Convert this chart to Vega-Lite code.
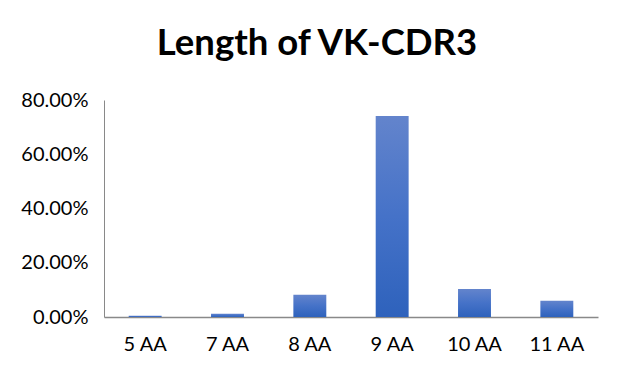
{
  "$schema": "https://vega.github.io/schema/vega-lite/v6.json",
  "autosize": {"type": "none"},
  "width": 494,
  "height": 217,
  "padding": {"left": 104, "top": 100, "right": 45, "bottom": 64},
  "background": "white",
  "title": {
    "text": "Length of VK-CDR3",
    "font": "Lato",
    "fontSize": 36.5,
    "fontWeight": "bold",
    "color": "#000000",
    "anchor": "middle",
    "dx": -34,
    "offset": 28
  },
  "data": {
    "values": [
      {"length": "5 AA", "pct": 0.005},
      {"length": "7 AA", "pct": 0.012},
      {"length": "8 AA", "pct": 0.082},
      {"length": "9 AA", "pct": 0.741},
      {"length": "10 AA", "pct": 0.103},
      {"length": "11 AA", "pct": 0.06}
    ]
  },
  "mark": {
    "type": "bar",
    "color": {
      "gradient": "linear",
      "x1": 0, "y1": 0, "x2": 0, "y2": 1,
      "stops": [
        {"offset": 0, "color": "#6384CC"},
        {"offset": 0.5, "color": "#4572C8"},
        {"offset": 1, "color": "#2E62BC"}
      ]
    }
  },
  "encoding": {
    "x": {
      "field": "length",
      "type": "nominal",
      "sort": null,
      "scale": {"paddingInner": 0.6, "paddingOuter": 0.3},
      "axis": {
        "title": null,
        "labelAngle": 0,
        "ticks": false,
        "labelPadding": 17,
        "labelFont": "Lato",
        "labelFontSize": 20,
        "labelColor": "#000000",
        "domainColor": "#898989",
        "domainWidth": 1.5
      }
    },
    "y": {
      "field": "pct",
      "type": "quantitative",
      "scale": {"domain": [0, 0.8], "nice": false},
      "axis": {
        "title": null,
        "values": [0, 0.2, 0.4, 0.6, 0.8],
        "format": ".2%",
        "grid": false,
        "ticks": false,
        "labelPadding": 16,
        "labelFont": "Lato",
        "labelFontSize": 20,
        "labelColor": "#000000",
        "domainColor": "#898989",
        "domainWidth": 1
      }
    }
  },
  "config": {"view": {"stroke": null}}
}
